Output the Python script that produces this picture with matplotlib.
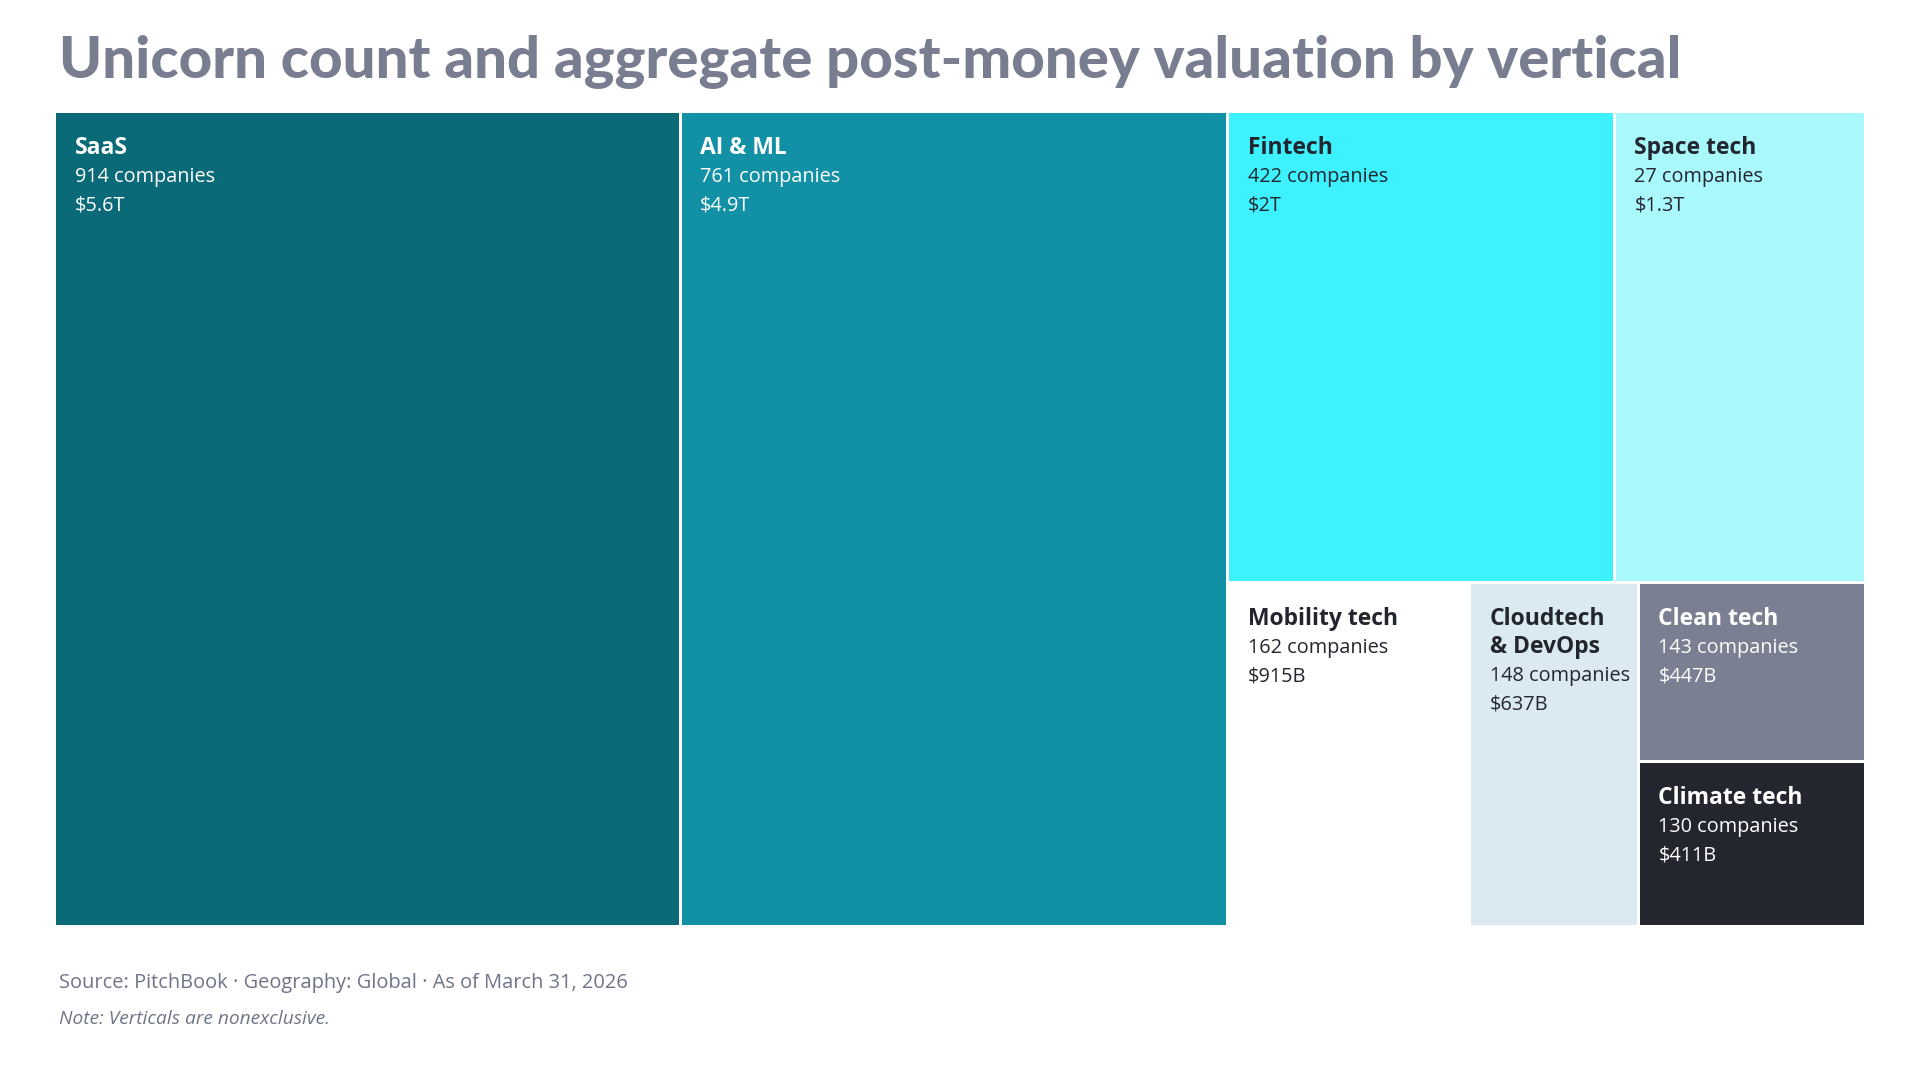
import matplotlib
matplotlib.use("Agg")
import matplotlib.pyplot as plt
from matplotlib.patches import Rectangle

# ---------------- data ----------------
verticals = ["SaaS", "AI & ML", "Fintech", "Space tech", "Mobility tech",
             "Cloudtech\n& DevOps", "Clean tech", "Climate tech"]
companies = [914, 761, 422, 27, 162, 148, 143, 130]
valuations_b = [5600, 4900, 2000, 1300, 915, 637, 447, 411]  # $B
tile_colors = ["#0a6a78", "#1190a6", "#3ef1ff", "#a8f8fc", "#ffffff",
               "#dbeaf0", "#7a8091", "#23262f"]
text_colors = ["#ffffff", "#ffffff", "#23262f", "#23262f", "#23262f",
               "#23262f", "#ffffff", "#ffffff"]

title = "Unicorn count and aggregate post-money valuation by vertical"
source = "Source: PitchBook · Geography: Global · As of March 31, 2026"
note = "Note: Verticals are nonexclusive."


def fmt_val(v):
    if v >= 1000:
        return "${:g}T".format(v / 1000)
    return "${:d}B".format(v)


# ---------------- squarified treemap ----------------
def worst(row, side):
    s = sum(row)
    return max(max(side * side * r / (s * s), s * s / (side * side * r)) for r in row)


def squarify(values, x, y, w, h, tol=0.01):
    total = float(sum(values))
    areas = [v / total * w * h for v in values]
    rects = []
    while areas:
        side = min(w, h)
        row = [areas[0]]
        i = 1
        while i < len(areas):
            cand = row + [areas[i]]
            if worst(cand, side) < worst(row, side) * (1 - tol):
                row = cand
                i += 1
            else:
                break
        areas = areas[i:]
        s = sum(row)
        if w >= h:
            cw = s / h
            yy = y
            for r in row:
                rh = r / cw
                rects.append((x, yy, cw, rh))
                yy += rh
            x += cw
            w -= cw
        else:
            rh = s / w
            xx = x
            for r in row:
                rw = r / rh
                rects.append((xx, y, rw, rh))
                xx += rw
            y += rh
            h -= rh
    return rects


# ---------------- figure ----------------
W, H = 1920, 1080
fig = plt.figure(figsize=(19.2, 10.8), dpi=100)
ax = fig.add_axes([0, 0, 1, 1])
ax.set_xlim(0, W)
ax.set_ylim(H, 0)
ax.axis("off")

X0, Y0, X1, Y1 = 54.5, 111.5, 1865.5, 926.5
rects = squarify(valuations_b, X0, Y0, X1 - X0, Y1 - Y0)
gap = 1.6

for i, (rx, ry, rw, rh) in enumerate(rects):
    ax.add_patch(Rectangle((rx + gap, ry + gap), rw - 2 * gap, rh - 2 * gap,
                           facecolor=tile_colors[i], edgecolor="none"))
    tx = rx + gap + 18.5
    ty = ry + gap + 40.5
    lines = verticals[i].split("\n")
    step = 28.4
    for j, ln in enumerate(lines):
        ax.text(tx, ty + j * step, ln, fontsize=16.5, fontweight="bold",
                family="Open Sans", color=text_colors[i], va="baseline", ha="left")
    n = len(lines)
    ax.text(tx, ty + n * step, "{} companies".format(companies[i]), fontsize=14.3,
            family="Open Sans", color=text_colors[i], va="baseline", ha="left")
    ax.text(tx, ty + (n + 1) * step, fmt_val(valuations_b[i]), fontsize=14.3,
            family="Open Sans", color=text_colors[i], va="baseline", ha="left")

ax.text(59, 78, title, fontsize=41.9, fontweight="black", family="Lato",
        color="#787e90", va="baseline", ha="left")
ax.text(59, 988, source, fontsize=14.4, family="Open Sans",
        color="#6f7588", va="baseline", ha="left")
ax.text(59, 1024, note, fontsize=13.8, family="Open Sans", style="italic",
        color="#6f7588", va="baseline", ha="left")

fig.savefig("out.png", dpi=100, facecolor="white")
